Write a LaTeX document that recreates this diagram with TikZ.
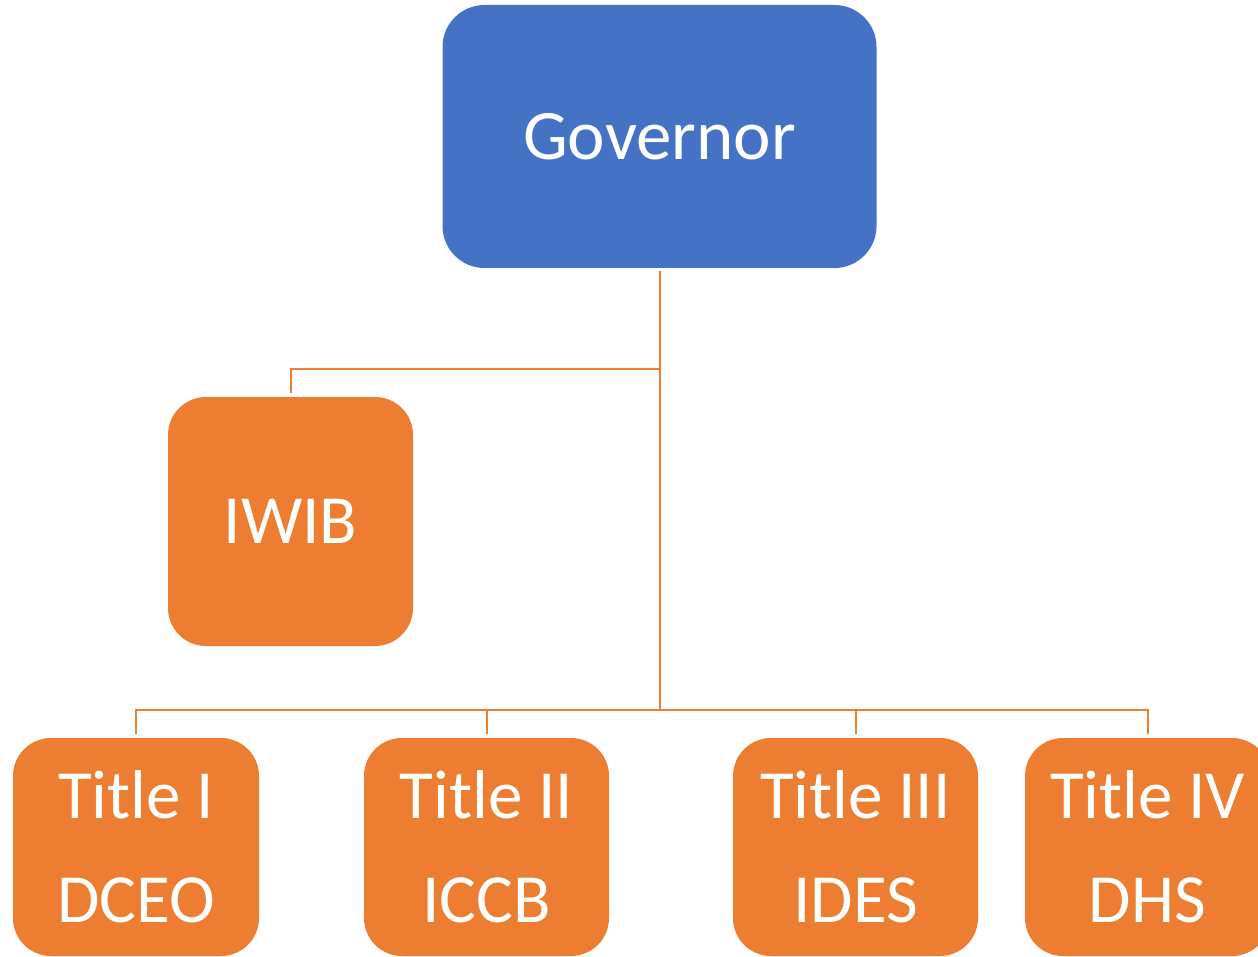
\documentclass[tikz,border=0pt]{standalone}
\usepackage{fontspec}
\setmainfont{Carlito}
\definecolor{govblue}{HTML}{4472C4}
\definecolor{orgorange}{HTML}{ED7D31}
\begin{document}
\begin{tikzpicture}[x=1pt,y=1pt,
  govbox/.style={fill=govblue, draw=none, rounded corners=42pt, text=white,
    minimum width=434pt, minimum height=263pt, inner sep=0pt,
    font=\fontsize{71}{86}\selectfont},
  obox/.style={fill=orgorange, draw=none, rounded corners=38pt, text=white,
    inner sep=0pt, align=center, font=\fontsize{69}{104}\selectfont},
  conn/.style={draw=orgorange, line width=2pt}]
\useasboundingbox (0,0) rectangle (1258,-957);
\node[govbox] (gov) at (659.5,-136.5) {Governor};
\node[obox, minimum width=245pt, minimum height=249pt] (iwib) at (290.5,-521.5) {IWIB};
\node[obox, minimum width=246pt, minimum height=218pt] (t1) at (136,-847) {Title I\\DCEO};
\node[obox, minimum width=245pt, minimum height=218pt] (t2) at (486.5,-847) {Title II\\ICCB};
\node[obox, minimum width=245pt, minimum height=218pt] (t3) at (855.5,-847) {Title III\\IDES};
\node[obox, minimum width=245pt, minimum height=218pt] (t4) at (1147.5,-847) {Title IV\\DHS};
\coordinate (j1) at (659.5,-369);
\coordinate (j2) at (659.5,-710);
\draw[conn] ([yshift=-3pt]gov.south) -- (j2);
\draw[conn] (j1) -| ([yshift=4pt]iwib.north);
\draw[conn] (j2) -| ([yshift=4pt]t1.north);
\draw[conn] (j2) -| ([yshift=4pt]t2.north);
\draw[conn] (j2) -| ([yshift=4pt]t3.north);
\draw[conn] (j2) -| ([yshift=4pt]t4.north);
\end{tikzpicture}
\end{document}
